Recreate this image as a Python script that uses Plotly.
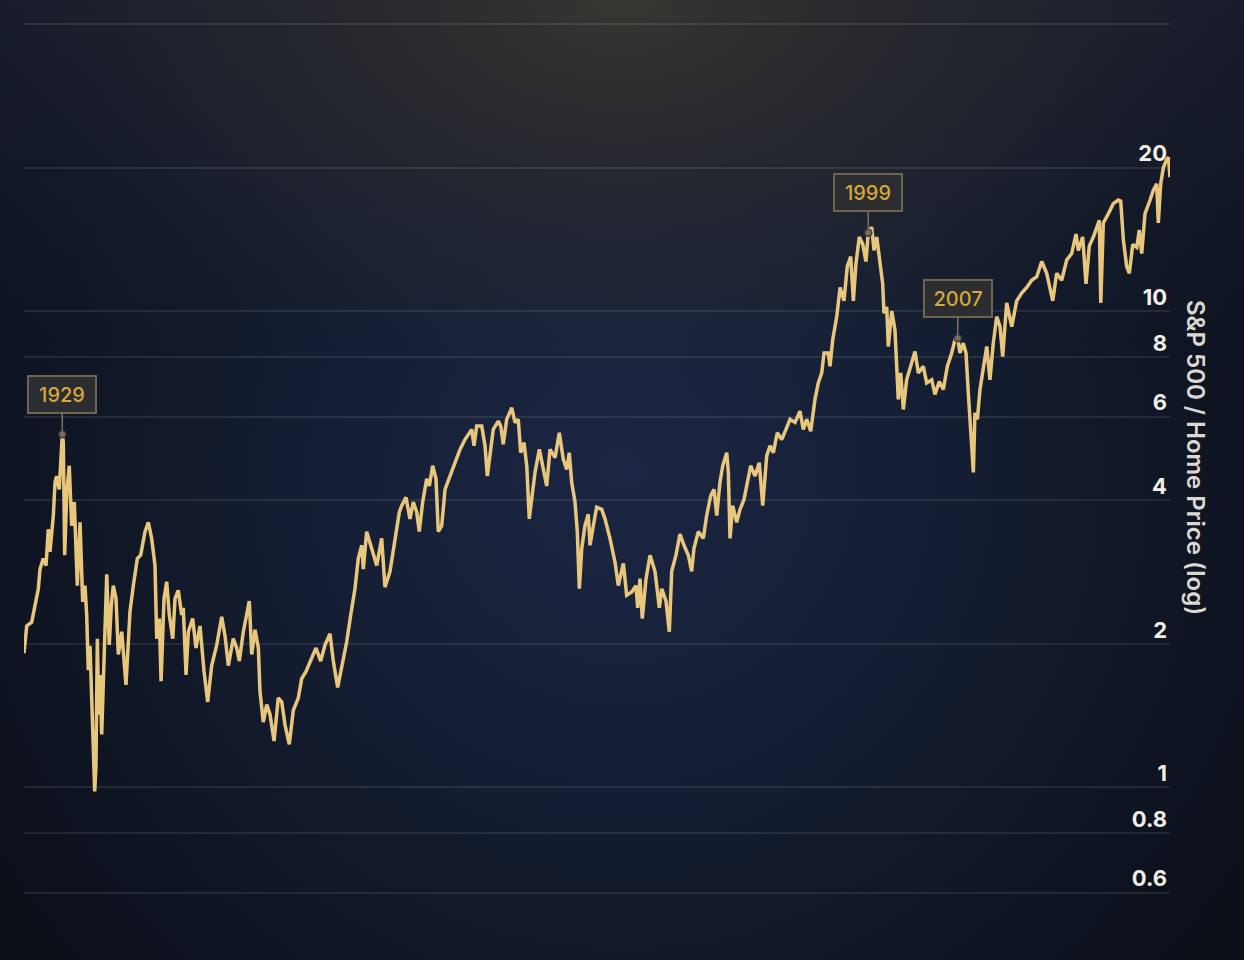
import base64
import math
import plotly.graph_objects as go

# ---------------- data ----------------
years = [
    1926.33, 1926.57, 1927.00, 1927.58, 1927.73, 1928.01, 1928.25, 1928.45, 1928.60, 1928.89,
    1929.04, 1929.18, 1929.41, 1929.53, 1929.67, 1929.76, 1929.88, 1930.06, 1930.28, 1930.49,
    1930.72, 1930.98, 1931.22, 1931.45, 1931.65, 1931.80, 1931.94, 1932.09, 1932.24, 1932.38,
    1932.50, 1932.61, 1932.73, 1932.85, 1932.96, 1933.11, 1933.31, 1933.55, 1933.77, 1933.95,
    1934.12, 1934.36, 1934.56, 1934.86, 1935.23, 1935.58, 1935.87, 1936.22, 1936.51, 1936.89,
    1937.18, 1937.47, 1937.76, 1937.91, 1938.14, 1938.29, 1938.55, 1938.78, 1939.01, 1939.31,
    1939.51, 1939.79, 1940.09, 1940.23, 1940.47, 1940.67, 1941.05, 1941.34, 1941.69, 1942.04,
    1942.36, 1942.71, 1943.15, 1943.43, 1943.58, 1943.87, 1944.16, 1944.59, 1944.89, 1945.12,
    1945.47, 1945.99, 1946.20, 1946.49, 1946.78, 1946.92, 1947.21, 1947.51, 1947.80, 1948.15,
    1948.52, 1948.82, 1949.11, 1949.48, 1949.83, 1950.27, 1950.56, 1950.94, 1951.44, 1951.81,
    1952.22, 1952.60, 1953.03, 1953.32, 1953.70, 1954.05, 1954.49, 1954.84, 1955.21, 1955.50,
    1955.80, 1955.94, 1956.23, 1956.67, 1957.11, 1957.54, 1957.83, 1958.27, 1958.70, 1959.08,
    1959.29, 1959.66, 1960.01, 1960.30, 1960.60, 1960.82, 1961.12, 1961.47, 1961.70, 1961.99,
    1962.28, 1962.48, 1962.78, 1963.07, 1963.50, 1963.94, 1964.38, 1964.81, 1965.19, 1965.40,
    1965.60, 1965.83, 1966.27, 1966.56, 1966.76, 1966.99, 1967.28, 1967.72, 1967.93, 1968.15,
    1968.45, 1968.89, 1969.18, 1969.46, 1969.67, 1969.96, 1970.20, 1970.42, 1970.63, 1970.92,
    1971.30, 1971.64, 1971.94, 1972.23, 1972.67, 1973.04, 1973.39, 1973.69, 1973.91, 1974.12,
    1974.41, 1974.61, 1974.79, 1975.00, 1975.28, 1975.57, 1975.72, 1976.01, 1976.30, 1976.74,
    1977.03, 1977.46, 1977.90, 1978.19, 1978.63, 1978.92, 1979.36, 1979.73, 1979.88, 1980.08,
    1980.28, 1980.61, 1980.96, 1981.39, 1981.77, 1981.98, 1982.35, 1982.64, 1982.85, 1983.22,
    1983.57, 1983.92, 1984.30, 1984.59, 1984.79, 1985.17, 1985.61, 1985.90, 1986.25, 1986.54,
    1986.78, 1987.06, 1987.30, 1987.65, 1987.79, 1987.94, 1988.17, 1988.52, 1988.81, 1989.16,
    1989.39, 1989.74, 1990.12, 1990.49, 1990.79, 1991.14, 1991.43, 1991.72, 1992.06, 1992.45,
    1992.82, 1993.17, 1993.61, 1994.04, 1994.33, 1994.63, 1994.98, 1995.35, 1995.64, 1995.94,
    1996.14, 1996.51, 1996.66, 1996.90, 1997.25, 1997.54, 1997.88, 1998.17, 1998.47, 1998.70,
    1998.93, 1999.22, 1999.52, 1999.80, 2000.00, 2000.30, 2000.50, 2000.74, 2001.03, 2001.26,
    2001.37, 2001.61, 2001.75, 2002.05, 2002.33, 2002.62, 2002.83, 2003.06, 2003.35, 2003.70,
    2004.08, 2004.37, 2004.80, 2005.10, 2005.54, 2005.82, 2006.20, 2006.55, 2006.90, 2007.28,
    2007.57, 2007.81, 2008.00, 2008.29, 2008.53, 2008.73, 2008.94, 2009.17, 2009.31, 2009.52,
    2009.75, 2010.04, 2010.34, 2010.62, 2010.91, 2011.21, 2011.50, 2011.73, 2012.08, 2012.52,
    2012.95, 2013.39, 2013.83, 2014.26, 2014.70, 2015.14, 2015.57, 2016.10, 2016.44, 2016.88,
    2017.32, 2017.75, 2018.13, 2018.33, 2018.71, 2019.00, 2019.29, 2019.64, 2019.93, 2020.16,
    2020.29, 2020.51, 2020.95, 2021.38, 2021.82, 2022.03, 2022.26, 2022.55, 2022.78, 2023.08,
    2023.43, 2023.65, 2023.86, 2024.15, 2024.59, 2024.87, 2025.17, 2025.31, 2025.52, 2025.75,
    2026.04, 2026.20, 2026.33,
]

ratio = [
    1.91, 2.18, 2.22, 2.61, 2.87, 3.02, 2.92, 3.48, 3.12, 3.72,
    4.37, 4.50, 4.22, 4.88, 5.51, 5.30, 3.07, 4.16, 4.73, 3.54,
    3.97, 2.65, 3.60, 2.45, 2.65, 2.30, 1.76, 1.98, 1.54, 1.31,
    0.98, 1.11, 2.05, 1.42, 1.72, 1.29, 1.96, 2.80, 1.99, 2.41,
    2.65, 2.49, 1.90, 2.12, 1.64, 2.34, 2.65, 3.02, 3.07, 3.44,
    3.60, 3.33, 2.92, 2.05, 2.26, 1.67, 2.49, 2.70, 2.30, 2.05,
    2.49, 2.59, 2.30, 2.38, 1.72, 2.12, 2.26, 1.96, 2.18, 1.75,
    1.51, 1.80, 1.99, 2.18, 2.28, 2.08, 1.80, 2.05, 1.96, 1.84,
    2.12, 2.46, 1.90, 2.14, 1.96, 1.59, 1.37, 1.49, 1.42, 1.25,
    1.54, 1.51, 1.35, 1.23, 1.45, 1.54, 1.69, 1.75, 1.86, 1.96,
    1.84, 1.99, 2.10, 1.84, 1.62, 1.78, 2.02, 2.30, 2.61, 3.02,
    3.22, 2.87, 3.44, 3.17, 2.92, 3.33, 2.63, 2.84, 3.33, 3.78,
    3.90, 4.06, 3.66, 3.97, 3.78, 3.44, 3.97, 4.44, 4.29, 4.73,
    4.44, 3.44, 3.54, 4.22, 4.50, 4.80, 5.12, 5.37, 5.55, 5.64,
    5.21, 5.73, 5.73, 5.21, 4.50, 5.04, 5.64, 5.87, 5.73, 5.25,
    5.92, 6.26, 5.83, 5.92, 5.04, 5.29, 4.73, 3.66, 4.09, 4.58,
    5.12, 4.65, 4.29, 5.12, 4.92, 5.55, 4.88, 4.65, 5.04, 4.37,
    3.97, 3.44, 2.61, 3.17, 3.54, 3.74, 3.22, 3.54, 3.87, 3.83,
    3.66, 3.33, 2.97, 2.65, 2.95, 2.53, 2.57, 2.65, 2.38, 2.74,
    2.26, 2.74, 3.07, 2.84, 2.38, 2.61, 2.46, 2.12, 2.84, 3.07,
    3.40, 3.22, 3.07, 2.84, 3.17, 3.44, 3.33, 3.72, 4.09, 4.22,
    3.72, 4.37, 4.73, 5.04, 4.58, 3.33, 3.90, 3.60, 3.83, 4.02,
    4.29, 4.73, 4.50, 4.80, 3.90, 4.96, 5.21, 5.04, 5.55, 5.37,
    5.64, 5.92, 5.83, 6.16, 5.64, 5.92, 5.59, 6.52, 7.06, 7.41,
    8.16, 8.16, 7.65, 8.70, 9.73, 11.2, 10.5, 12.4, 13.0, 10.5,
    12.6, 14.3, 13.8, 12.7, 14.6, 15.0, 13.4, 14.3, 12.6, 11.4,
    9.89, 10.2, 8.42, 10.0, 9.12, 6.52, 7.41, 6.21, 7.17, 7.65,
    8.22, 7.41, 7.65, 7.06, 7.17, 6.68, 7.11, 6.84, 7.65, 8.16,
    8.70, 8.76, 8.16, 8.56, 8.16, 6.73, 5.55, 4.58, 6.11, 5.92,
    6.84, 7.53, 8.42, 7.17, 8.56, 9.73, 9.27, 8.02, 10.4, 9.27,
    10.5, 10.9, 11.2, 11.6, 11.8, 12.7, 12.0, 10.5, 12.0, 11.6,
    12.8, 13.2, 14.5, 13.4, 14.3, 11.4, 13.7, 14.3, 15.0, 15.5,
    10.4, 15.3, 16.0, 16.8, 17.1, 17.0, 14.1, 12.4, 12.0, 13.8,
    13.6, 14.8, 13.2, 16.0, 17.1, 17.9, 18.5, 15.3, 18.5, 20.0,
    20.8, 21.0, 19.1,
]

tick_vals = [0.6, 0.8, 1, 2, 4, 6, 8, 10, 20, 40]
tick_text = ["0.6", "0.8", "1", "2", "4", "6", "8", "10", "20", ""]

peak_labels = ["1929", "1999", "2007"]
peak_years = [1929.67, 2000.00, 2007.81]
peak_values = [5.51, 14.6, 8.76]

axis_title = "S&P 500 / Home Price (log)"

# ---------------- layout geometry ----------------
W, H = 1244, 960
ML, MR, MT, MB = 24, 74, 10, 10
PW, PH = W - ML - MR, H - MT - MB

# background: radial glows drawn as an SVG image behind the plot
svg = f"""<svg xmlns="http://www.w3.org/2000/svg" width="{W}" height="{H}" viewBox="0 0 {W} {H}">
<defs>
<radialGradient id="navy" gradientUnits="userSpaceOnUse" cx="622" cy="470" r="760">
<stop offset="0" stop-color="#1b2644"/>
<stop offset="0.45" stop-color="#141d31"/>
<stop offset="0.8" stop-color="#0e1421"/>
<stop offset="1" stop-color="#0b0f18"/>
</radialGradient>
<radialGradient id="warm" gradientUnits="userSpaceOnUse" cx="622" cy="0" r="640" gradientTransform="translate(622 0) scale(1 0.6) translate(-622 0)">
<stop offset="0" stop-color="#3a3731" stop-opacity="0.95"/>
<stop offset="0.5" stop-color="#2f2e2d" stop-opacity="0.5"/>
<stop offset="1" stop-color="#2a2b2f" stop-opacity="0"/>
</radialGradient>
<linearGradient id="top" x1="0" y1="0" x2="0" y2="1">
<stop offset="0" stop-color="#1e2332" stop-opacity="0.7"/>
<stop offset="0.35" stop-color="#1e2332" stop-opacity="0"/>
</linearGradient>
</defs>
<rect width="{W}" height="{H}" fill="url(#navy)"/>
<rect width="{W}" height="{H}" fill="url(#top)"/>
<rect width="{W}" height="{H}" fill="url(#warm)"/>
</svg>"""
bg_src = "data:image/svg+xml;base64," + base64.b64encode(svg.encode()).decode()

fig = go.Figure()
fig.add_trace(go.Scatter(
    x=years, y=ratio, mode="lines",
    line=dict(color="#e8c77d", width=3.5),
    hoverinfo="skip", showlegend=False,
))
fig.add_trace(go.Scatter(
    x=peak_years, y=peak_values, mode="markers",
    marker=dict(size=7, color="#77705f", line=dict(color="#3b3a36", width=1.5)),
    hoverinfo="skip", showlegend=False,
))

for lab, yr, v in zip(peak_labels, peak_years, peak_values):
    fig.add_annotation(
        x=yr, y=math.log10(v), xref="x", yref="y",
        text=lab, showarrow=True, arrowhead=0, arrowwidth=1.5,
        arrowcolor="#7a7362", ax=0, ay=-40, standoff=3,
        font=dict(family="Inter", size=20, color="#d5a73c", weight=500),
        bgcolor="#2b2d31", bordercolor="#6e6551", borderwidth=2,
        borderpad=2, width=62, height=31,
    )

fig.add_annotation(
    text=axis_title, xref="paper", yref="paper",
    x=(1196 - ML) / PW, y=1 - (457 - MT) / PH,
    xanchor="center", yanchor="middle", showarrow=False, textangle=90,
    font=dict(family="Inter", size=24, color="#dcd8d0", weight=600),
)

fig.add_layout_image(dict(
    source=bg_src, xref="paper", yref="paper",
    x=-ML / PW, y=1 + MT / PH, sizex=W / PW, sizey=H / PH,
    xanchor="left", yanchor="top", sizing="stretch", layer="below",
))

fig.update_layout(
    width=W, height=H,
    margin=dict(l=ML, r=MR, t=MT, b=MB),
    paper_bgcolor="#0e131c", plot_bgcolor="rgba(0,0,0,0)",
    showlegend=False,
    xaxis=dict(range=[1926.33, 2026.33], visible=False, fixedrange=True),
    yaxis=dict(
        type="log", range=[-0.342, 1.632], side="right",
        tickmode="array", tickvals=tick_vals, ticktext=tick_text,
        ticklabelposition="inside", ticklabelshift=-14, ticklabelstandoff=0,
        ticks="", showline=False, zeroline=False,
        showgrid=True, gridcolor="rgba(255,255,255,0.085)", gridwidth=2,
        tickfont=dict(family="Inter", size=22, color="#f1eee7", weight=700),
        fixedrange=True,
    ),
)

fig.write_html(
    "out.html",
    config={"displayModeBar": False},
    post_script="document.body.style.margin='0';document.body.style.background='#0e131c';",
)
